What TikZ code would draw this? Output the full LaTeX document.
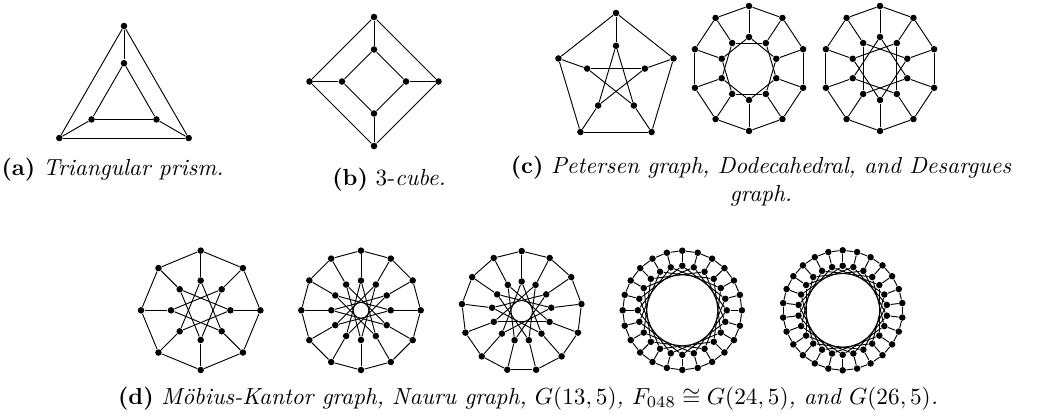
\documentclass[tikz,border=0pt]{standalone}
\usepackage{amssymb}

\newcommand{\gpgraph}[7]{
    \begin{scope}[shift={(#2)}, xscale=#7]
        \foreach \i in {1,...,#3}
            \path ({90+360*(\i-1)/#3}:#5) node[vtx] (#1o\i) {}
                  ({90+360*(\i-1)/#3}:#6) node[vtx] (#1i\i) {};
        \foreach \i in {1,...,#3} {
            \pgfmathtruncatemacro{\nxt}{mod(\i,#3)+1}
            \pgfmathtruncatemacro{\skp}{mod(\i-1+#4,#3)+1}
            \draw (#1o\i) -- (#1o\nxt);
            \draw (#1o\i) -- (#1i\i);
            \draw (#1i\i) -- (#1i\skp);
        }
    \end{scope}
}
\tikzset{x=0.43pt, y=0.43pt, line width=0.7pt,
    vtx/.style={circle, fill, inner sep=0pt, minimum size=2.8pt},
    captext/.style={anchor=base, inner sep=0pt, align=center}}

\begin{document}
\begin{tikzpicture}
    \useasboundingbox (0,0) rectangle (1040,417);
    % top row
    \gpgraph{pr}{124,316.3}{3}{1}{74.7}{37.5}{1}
    \gpgraph{cu}{374,335.5}{4}{1}{64.5}{32}{1}
    \gpgraph{pe}{616,338.2}{5}{2}{65.8}{33}{0.92}
    \gpgraph{do}{749,348.5}{10}{2}{62.5}{31.5}{0.91}
    \gpgraph{de}{880,348.5}{10}{3}{62.5}{31.5}{0.91}
    % bottom row
    \gpgraph{mk}{200.7,106.7}{8}{3}{59.7}{29.7}{1}
    \gpgraph{na}{361,106.7}{12}{5}{59.7}{29.7}{1}
    \gpgraph{ta}{521.7,105.7}{13}{5}{60.2}{29.8}{1}
    \gpgraph{fo}{682.3,106.7}{24}{5}{59.6}{44.5}{1}
    \gpgraph{tw}{842.7,106.7}{26}{5}{60}{44.5}{1}
    % captions
    \node[captext] (capa) at (112.5,242) {\textbf{(a)} \textit{Triangular prism.}};
    \node[captext] (capb) at (389,232) {\textbf{(b)} 3-\textit{cube.}};
    \node[captext] (capc) at (761,216) {\textbf{(c)} \textit{Petersen graph, Dodecahedral, and Desargues}\\\textit{graph.}};
    \node[captext] (capd) at (528,13) {\textbf{(d)} \textit{M\"obius-Kantor graph, Nauru graph, $G(13,5)$, $F_{048}\cong G(24,5)$, and $G(26,5)$.}};
\end{tikzpicture}
\end{document}
